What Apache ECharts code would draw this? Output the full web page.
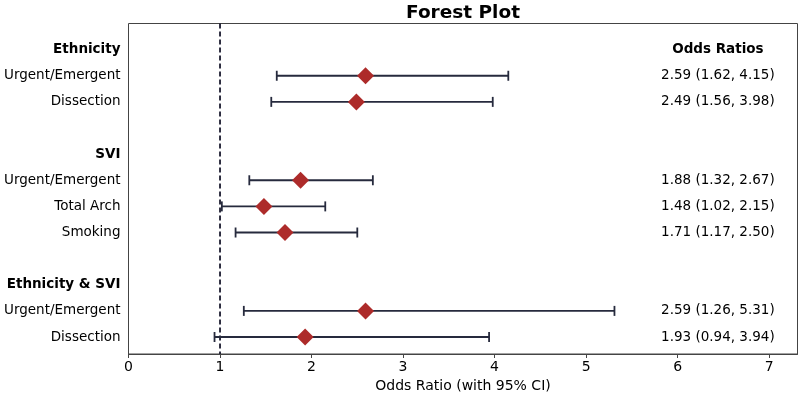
<!DOCTYPE html>
<html>
<head>
<meta charset="utf-8">
<script src="https://cdn.jsdelivr.net/npm/echarts@6/dist/echarts.min.js"></script>
<style>
  html, body { margin: 0; padding: 0; background: #fff; }
  #chart { width: 800px; height: 395px; }
</style>
</head>
<body>
<div id="chart"></div>
<script>
// rows top to bottom; '' = blank spacer row, headers flagged below
var rowLabels = ['Ethnicity', 'Urgent/Emergent', 'Dissection', '', 'SVI', 'Urgent/Emergent', 'Total Arch', 'Smoking', '', 'Ethnicity & SVI', 'Urgent/Emergent', 'Dissection'];
var headerRows = [0, 4, 9];

// estimates per row (row index into rowLabels)
var estRows = [1, 2, 5, 6, 7, 10, 11];
var oddsRatio = [2.59, 2.49, 1.88, 1.48, 1.71, 2.59, 1.93];
var ciLow = [1.62, 1.56, 1.32, 1.02, 1.17, 1.26, 0.94];
var ciHigh = [4.15, 3.98, 2.67, 2.15, 2.50, 5.31, 3.94];
var orText = ['2.59 (1.62, 4.15)', '2.49 (1.56, 3.98)', '1.88 (1.32, 2.67)', '1.48 (1.02, 2.15)', '1.71 (1.17, 2.50)', '2.59 (1.26, 5.31)', '1.93 (0.94, 3.94)'];
var xTicks = [0, 1, 2, 3, 4, 5, 6, 7];

var textX = 6.44;
var font = 'DejaVu Sans';

var barData = [];
var pointData = [];
var textData = [[textX, 0, 'Odds Ratios', 1]];
for (var i = 0; i < estRows.length; i++) {
    barData.push([ciLow[i], ciHigh[i], estRows[i]]);
    pointData.push([oddsRatio[i], estRows[i]]);
    textData.push([textX, estRows[i], orText[i], 0]);
}

var chart = echarts.init(document.getElementById('chart'));

option = {
    animation: false,
    textStyle: { fontFamily: font },
    title: {
        text: 'Forest Plot',
        left: 458,
        textAlign: 'center',
        top: -1,
        textStyle: { fontFamily: font, fontSize: 18.5, fontWeight: 'bold', color: '#000' }
    },
    grid: {
        left: 128.5,
        right: 2.5,
        top: 23.5,
        bottom: 41,
        outerBoundsMode: 'none',
        containLabel: false,
        show: true,
        borderColor: '#444',
        borderWidth: 1
    },
    xAxis: {
        type: 'value',
        min: 0,
        max: 7.31,
        interval: 1,
        name: 'Odds Ratio (with 95% CI)',
        nameLocation: 'middle',
        nameGap: 23,
        nameTextStyle: { fontFamily: font, fontSize: 14, color: '#000' },
        splitLine: { show: false },
        axisLine: { show: true, onZero: false, lineStyle: { color: '#444' } },
        axisTick: { show: true, length: 4, customValues: xTicks, lineStyle: { color: '#444' } },
        axisLabel: {
            fontFamily: font, fontSize: 14, color: '#000', margin: 6,
            customValues: xTicks,
            formatter: function (v) { return String(Math.round(v)); }
        }
    },
    yAxis: {
        type: 'value',
        inverse: true,
        min: -1,
        max: 11.65,
        interval: 1,
        splitLine: { show: false },
        axisLine: { show: false },
        axisTick: { show: false },
        axisLabel: {
            margin: 8,
            fontFamily: font, fontSize: 13.5, color: '#000',
            formatter: function (v) {
                var r = Math.round(v);
                if (Math.abs(v - r) > 1e-6 || r < 0 || r >= rowLabels.length) return '';
                if (headerRows.indexOf(r) >= 0) return '{b|' + rowLabels[r] + '}';
                return rowLabels[r];
            },
            rich: { b: { fontFamily: font, fontSize: 13.5, fontWeight: 'bold', color: '#000' } }
        }
    },
    series: [
        {
            type: 'line',
            data: [[1, -1], [1, 11.65]],
            symbol: 'none',
            lineStyle: { color: '#1a1a2e', width: 1.8, type: [5, 3] },
            z: 1
        },
        {
            type: 'custom',
            data: barData,
            z: 2,
            renderItem: function (params, api) {
                var y = api.value(2);
                var a = api.coord([api.value(0), y]);
                var b = api.coord([api.value(1), y]);
                var st = { stroke: '#262a3d', lineWidth: 1.8 };
                return {
                    type: 'group',
                    children: [
                        { type: 'line', shape: { x1: a[0], y1: a[1], x2: b[0], y2: b[1] }, style: st },
                        { type: 'line', shape: { x1: a[0], y1: a[1] - 5, x2: a[0], y2: a[1] + 5 }, style: st },
                        { type: 'line', shape: { x1: b[0], y1: b[1] - 5, x2: b[0], y2: b[1] + 5 }, style: st }
                    ]
                };
            }
        },
        {
            type: 'scatter',
            data: pointData,
            symbol: 'diamond',
            symbolSize: [17, 17],
            itemStyle: { color: '#ad2b2a', opacity: 1 },
            z: 3
        },
        {
            type: 'custom',
            data: textData,
            z: 4,
            renderItem: function (params, api) {
                var p = api.coord([api.value(0), api.value(1)]);
                var bold = api.value(3) === 1;
                return {
                    type: 'text',
                    x: p[0],
                    y: p[1],
                    style: {
                        text: textData[params.dataIndex][2],
                        align: 'center',
                        verticalAlign: 'middle',
                        fontFamily: font,
                        fontSize: 13.5,
                        fontWeight: bold ? 'bold' : 'normal',
                        fill: '#000'
                    }
                };
            }
        }
    ]
};

chart.setOption(option);
</script>
</body>
</html>
